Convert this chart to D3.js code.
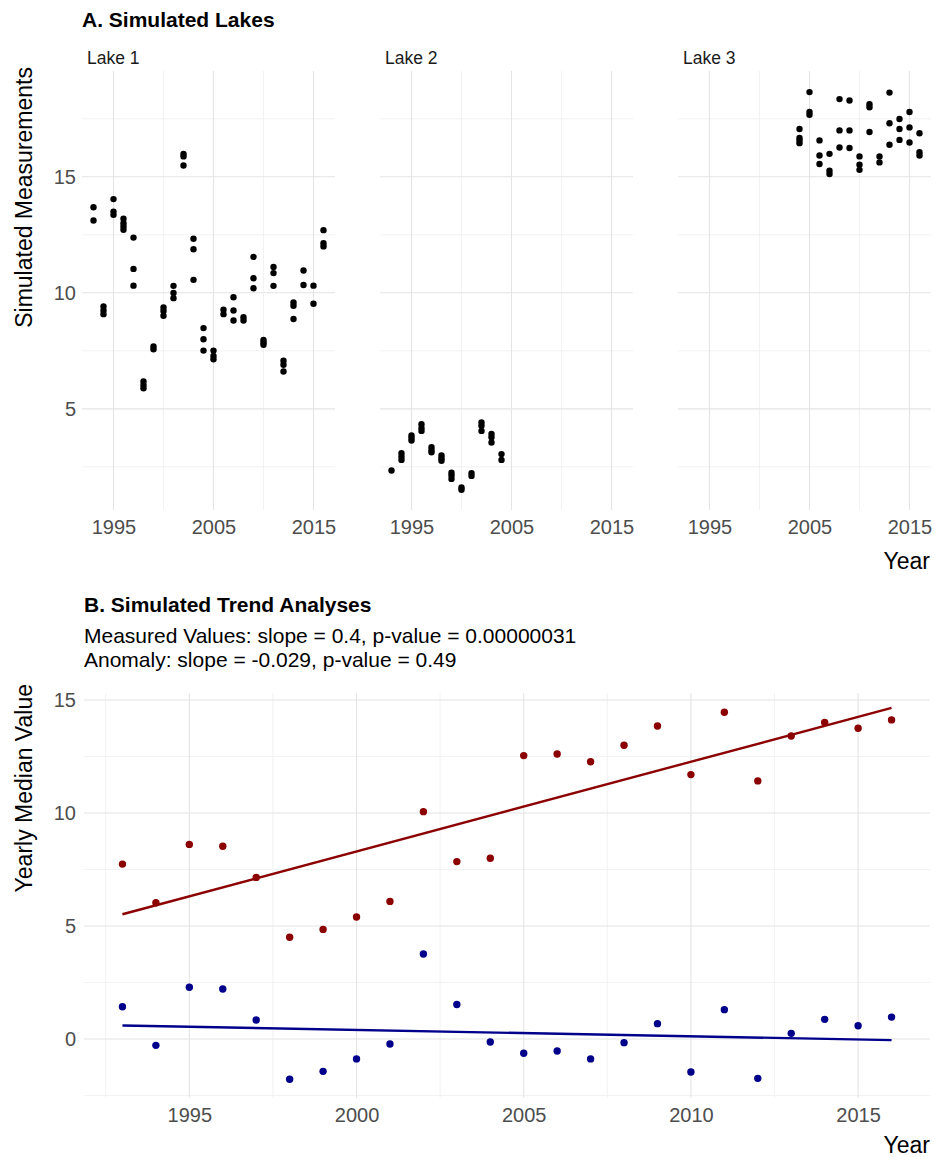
<!DOCTYPE html>
<html>
<head>
<meta charset="utf-8">
<script src="https://cdn.jsdelivr.net/npm/d3@7"></script>
<style>
  body { margin: 0; background: #fff; }
  text { font-family: "Liberation Sans", Arial, sans-serif; }
</style>
</head>
<body>
<script>
// ---------------- data ----------------
const lakeNames = ["Lake 1", "Lake 2", "Lake 3"]

// [year, measurement]
const lake1 = [
  [1993, 13.69], [1993, 13.12],
  [1994, 9.41], [1994, 9.24], [1994, 9.08],
  [1995, 14.04], [1995, 13.5], [1995, 13.36],
  [1996, 13.19], [1996, 13.0], [1996, 12.86], [1996, 12.72],
  [1997, 12.38], [1997, 11.03], [1997, 10.31],
  [1998, 6.18], [1998, 6.03], [1998, 5.89],
  [1999, 7.69], [1999, 7.57],
  [2000, 9.37], [2000, 9.22], [2000, 9.01],
  [2001, 10.3], [2001, 9.99], [2001, 9.77],
  [2002, 15.98], [2002, 15.88], [2002, 15.49],
  [2003, 12.33], [2003, 11.88], [2003, 10.56],
  [2004, 8.48], [2004, 8.0], [2004, 7.51],
  [2005, 7.51], [2005, 7.28], [2005, 7.14],
  [2006, 9.27], [2006, 9.08],
  [2007, 9.81], [2007, 9.24], [2007, 8.81],
  [2008, 8.95], [2008, 8.81],
  [2009, 11.55], [2009, 10.63], [2009, 10.2],
  [2010, 7.97], [2010, 7.86], [2010, 7.76],
  [2011, 11.11], [2011, 10.85], [2011, 10.3],
  [2012, 7.07], [2012, 6.9], [2012, 6.61],
  [2013, 9.58], [2013, 9.44], [2013, 8.87],
  [2014, 10.96], [2014, 10.34],
  [2015, 10.31], [2015, 9.53],
  [2016, 12.7], [2016, 12.14], [2016, 12.0]
]

const lake2 = [
  [1993, 2.34],
  [1994, 3.09], [1994, 2.94], [1994, 2.8],
  [1995, 3.85], [1995, 3.74], [1995, 3.63],
  [1996, 4.34], [1996, 4.17], [1996, 4.05],
  [1997, 3.35], [1997, 3.23], [1997, 3.13],
  [1998, 2.99], [1998, 2.87], [1998, 2.76],
  [1999, 2.25], [1999, 2.13], [1999, 1.98],
  [2000, 1.61], [2000, 1.51],
  [2001, 2.23], [2001, 2.11],
  [2002, 4.41], [2002, 4.27], [2002, 4.05],
  [2003, 3.92], [2003, 3.78], [2003, 3.55],
  [2004, 3.05], [2004, 2.8]
]

const lake3 = [
  [2004, 17.06], [2004, 16.67], [2004, 16.57], [2004, 16.45],
  [2005, 18.65], [2005, 17.79], [2005, 17.67],
  [2006, 16.57], [2006, 15.92], [2006, 15.55],
  [2007, 15.99], [2007, 15.26], [2007, 15.12],
  [2008, 18.35], [2008, 17.0], [2008, 16.26],
  [2009, 18.29], [2009, 17.0], [2009, 16.24],
  [2010, 15.88], [2010, 15.52], [2010, 15.3],
  [2011, 18.13], [2011, 18.0], [2011, 16.93],
  [2012, 15.88], [2012, 15.62],
  [2013, 18.63], [2013, 17.31], [2013, 16.38],
  [2014, 17.49], [2014, 17.06], [2014, 16.59],
  [2015, 17.79], [2015, 17.13], [2015, 16.48],
  [2016, 16.88], [2016, 16.06], [2016, 15.92]
]

const trendYears = [1993, 1994, 1995, 1996, 1997, 1998, 1999, 2000, 2001, 2002, 2003, 2004,
                    2005, 2006, 2007, 2008, 2009, 2010, 2011, 2012, 2013, 2014, 2015, 2016]
const measuredMedians = [7.74, 6.03, 8.61, 8.53, 7.15, 4.5, 4.85, 5.4, 6.09, 10.06, 7.85, 8.0,
                         12.54, 12.61, 12.27, 13.0, 13.85, 11.7, 14.46, 11.42, 13.41, 14.01, 13.75, 14.12]
const anomalyValues = [1.43, -0.28, 2.29, 2.21, 0.84, -1.78, -1.43, -0.88, -0.22, 3.76, 1.53, -0.13,
                       -0.63, -0.53, -0.88, -0.16, 0.68, -1.46, 1.3, -1.74, 0.25, 0.87, 0.59, 0.97]
// fitted trend line values at first and last year
const measuredFit = [5.52, 14.65]
const anomalyFit = [0.6, -0.05]

const lakeXTicks = [1995, 2005, 2015]
const lakeXMinor = [2000, 2010]
const lakeYTicks = [5, 10, 15]
const lakeYMinor = [2.5, 7.5, 12.5, 17.5]
const trendXTicks = [1995, 2000, 2005, 2010, 2015]
const trendXMinor = [1992.5, 1997.5, 2002.5, 2007.5, 2012.5]
const trendYTicks = [0, 5, 10, 15]
const trendYMinor = [-2.5, 2.5, 7.5, 12.5]

const titleA = "A. Simulated Lakes"
const titleB = "B. Simulated Trend Analyses"
const subtitleB = ["Measured Values: slope = 0.4, p-value = 0.00000031",
                   "Anomaly: slope = -0.029, p-value = 0.49"]

// ---------------- layout constants ----------------
const WIDTH = 935
const HEIGHT = 1157

const A_TOP = 71
const A_BOTTOM = 510
const A_PANEL_LEFTS = [82, 380, 678]
const A_PANEL_WIDTH = 253

const B_TOP = 693
const B_BOTTOM = 1098
const B_LEFT = 84
const B_RIGHT = 930

const GRID_MAJOR = "#e4e4e4"
const GRID_MINOR = "#efefef"
const TICK_COLOR = "#4d4d4d"
const RED = "#8b0000"
const BLUE = "#00008b"

const TITLE_SIZE = "21px"
const TICK_SIZE = "20px"
const AXIS_TITLE_SIZE = "23px"

const X_DOMAIN = [1991.85, 2017.15]

const svg = d3.select("body").append("svg")
    .attr("width", WIDTH)
    .attr("height", HEIGHT)

function drawGrid(g, x, y, xMajor, xMinor, yMajor, yMinor) {
    const [x0, x1] = x.range()
    const [y0, y1] = y.range()
    g.append("g").selectAll("line")
        .data(yMinor).join("line")
        .attr("x1", x0).attr("x2", x1)
        .attr("y1", d => y(d)).attr("y2", d => y(d))
        .attr("stroke", GRID_MINOR).attr("stroke-width", 0.8)
    g.append("g").selectAll("line")
        .data(xMinor).join("line")
        .attr("y1", y0).attr("y2", y1)
        .attr("x1", d => x(d)).attr("x2", d => x(d))
        .attr("stroke", GRID_MINOR).attr("stroke-width", 0.8)
    g.append("g").selectAll("line")
        .data(yMajor).join("line")
        .attr("x1", x0).attr("x2", x1)
        .attr("y1", d => y(d)).attr("y2", d => y(d))
        .attr("stroke", GRID_MAJOR).attr("stroke-width", 1.1)
    g.append("g").selectAll("line")
        .data(xMajor).join("line")
        .attr("y1", y0).attr("y2", y1)
        .attr("x1", d => x(d)).attr("x2", d => x(d))
        .attr("stroke", GRID_MAJOR).attr("stroke-width", 1.1)
}

function styleAxis(g) {
    g.select(".domain").remove()
    g.selectAll("text")
        .attr("fill", TICK_COLOR)
        .style("font-size", TICK_SIZE)
        .style("font-family", '"Liberation Sans", Arial, sans-serif')
}

//**********************************************************************
//                         PANEL A - lakes
//**********************************************************************
svg.append("text")
    .attr("x", 82).attr("y", 27)
    .attr("font-weight", 700)
    .style("font-size", TITLE_SIZE)
    .text(titleA)

const yA = d3.scaleLinear()
    .domain([0.64, 19.56])
    .range([A_BOTTOM, A_TOP])

const lakes = [lake1, lake2, lake3]

lakes.forEach((lake, i) => {
    const left = A_PANEL_LEFTS[i]
    const x = d3.scaleLinear()
        .domain(X_DOMAIN)
        .range([left, left + A_PANEL_WIDTH])

    const g = svg.append("g")
    drawGrid(g, x, yA, lakeXTicks, lakeXMinor, lakeYTicks, lakeYMinor)

    g.append("text")
        .attr("x", left + 5).attr("y", 64)
        .style("font-size", "17.5px")
        .attr("fill", "#1a1a1a")
        .text(lakeNames[i])

    g.append("g")
        .selectAll("circle")
        .data(lake)
        .join("circle")
        .attr("cx", d => x(d[0]))
        .attr("cy", d => yA(d[1]))
        .attr("r", 3.2)
        .attr("fill", "#000")

    g.append("g")
        .attr("transform", `translate(0,${A_BOTTOM + 4})`)
        .call(d3.axisBottom(x).tickValues(lakeXTicks).tickFormat(d3.format("d")).tickSize(0).tickPadding(6))
        .call(styleAxis)

    if (i === 0) {
        g.append("g")
            .attr("transform", `translate(${left - 4},0)`)
            .call(d3.axisLeft(yA).tickValues(lakeYTicks).tickSize(0).tickPadding(2))
            .call(styleAxis)
    }
})

// axis titles are end-aligned (top / right) like the original
svg.append("text")
    .attr("transform", `translate(32,67)rotate(-90)`)
    .attr("text-anchor", "end")
    .style("font-size", AXIS_TITLE_SIZE)
    .text("Simulated Measurements")

svg.append("text")
    .attr("x", 930).attr("y", 569)
    .attr("text-anchor", "end")
    .style("font-size", AXIS_TITLE_SIZE)
    .text("Year")

//**********************************************************************
//                         PANEL B - trends
//**********************************************************************
svg.append("text")
    .attr("x", 84).attr("y", 612)
    .attr("font-weight", 700)
    .style("font-size", TITLE_SIZE)
    .text(titleB)

svg.append("g").selectAll("text")
    .data(subtitleB)
    .join("text")
    .attr("x", 84)
    .attr("y", (d, i) => 643 + i * 24)
    .style("font-size", "21px")
    .text(d => d)

const xB = d3.scaleLinear()
    .domain(X_DOMAIN)
    .range([B_LEFT, B_RIGHT])

const yB = d3.scaleLinear()
    .domain([-2.61, 15.31])
    .range([B_BOTTOM, B_TOP])

const gB = svg.append("g")
drawGrid(gB, xB, yB, trendXTicks, trendXMinor, trendYTicks, trendYMinor)

const fitYears = [trendYears[0], trendYears[trendYears.length - 1]]
const line = d3.line()
    .x(d => xB(d[0]))
    .y(d => yB(d[1]))

const series = [
    { values: measuredMedians, fit: measuredFit, color: RED },
    { values: anomalyValues, fit: anomalyFit, color: BLUE }
]

series.forEach(s => {
    gB.append("path")
        .datum(fitYears.map((yr, k) => [yr, s.fit[k]]))
        .attr("d", line)
        .attr("fill", "none")
        .attr("stroke", s.color)
        .attr("stroke-width", 2.4)

    gB.append("g")
        .selectAll("circle")
        .data(trendYears.map((yr, k) => [yr, s.values[k]]))
        .join("circle")
        .attr("cx", d => xB(d[0]))
        .attr("cy", d => yB(d[1]))
        .attr("r", 3.7)
        .attr("fill", s.color)
})

gB.append("g")
    .attr("transform", `translate(0,${B_BOTTOM + 4})`)
    .call(d3.axisBottom(xB).tickValues(trendXTicks).tickFormat(d3.format("d")).tickSize(0).tickPadding(6))
    .call(styleAxis)

gB.append("g")
    .attr("transform", `translate(${B_LEFT - 6},0)`)
    .call(d3.axisLeft(yB).tickValues(trendYTicks).tickSize(0).tickPadding(2))
    .call(styleAxis)

svg.append("text")
    .attr("transform", `translate(32,684)rotate(-90)`)
    .attr("text-anchor", "end")
    .style("font-size", AXIS_TITLE_SIZE)
    .text("Yearly Median Value")

svg.append("text")
    .attr("x", 930).attr("y", 1153)
    .attr("text-anchor", "end")
    .style("font-size", AXIS_TITLE_SIZE)
    .text("Year")
</script>
</body>
</html>
